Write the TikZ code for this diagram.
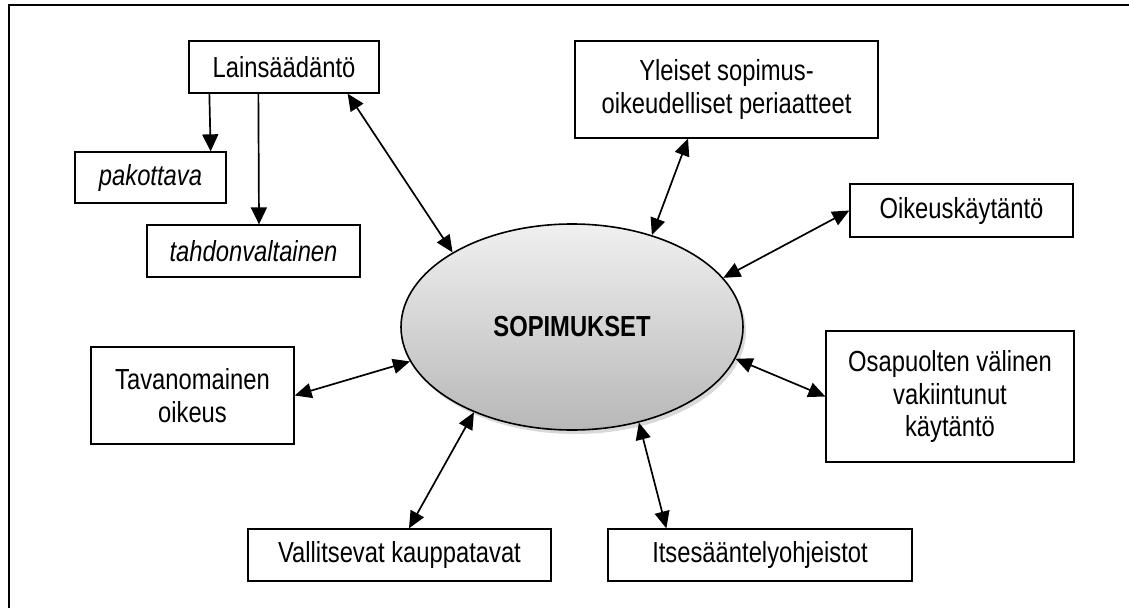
\documentclass[tikz,border=0pt]{standalone}
\usepackage{fontspec}
\setmainfont[FakeStretch=0.82]{Liberation Sans}
\usetikzlibrary{arrows.meta,shapes.geometric,shadows}
\begin{document}
\begin{tikzpicture}[x=1pt,y=-1pt,
  box/.style={draw, line width=1.3pt, inner sep=0pt, align=center,
    font=\fontsize{29}{32.5}\selectfont},
  itbox/.style={box, font=\fontsize{29}{32.5}\selectfont\itshape},
  conn/.style={line width=1.7pt,
    {Triangle[length=17pt,width=15pt]}-{Triangle[length=17pt,width=15pt]}},
  downarrow/.style={line width=1.7pt, -{Triangle[length=17pt,width=16pt]}},
  centre/.style={ellipse, draw, line width=1.6pt, inner sep=0pt,
    minimum width=342pt, minimum height=206pt,
    top color=black!6, bottom color=black!28,
    drop shadow={opacity=0.3, shadow xshift=3pt, shadow yshift=-4pt},
    font=\fontsize{29}{32}\selectfont\bfseries}]
\useasboundingbox (0,0) rectangle (1129,608);
\draw[line width=2pt] (9,608) -- (9,5) -- (1129,5);

\node[box, minimum width=190pt, minimum height=52pt] (lain) at (284,67) {Lainsäädäntö};
\node[itbox, minimum width=151pt, minimum height=51pt] (pak) at (150.5,177.5) {pakottava};
\node[itbox, minimum width=213pt, minimum height=52pt] (tahd) at (253.5,251) {tahdonvaltainen};
\node[box, minimum width=303pt, minimum height=97pt] (yl) at (726.5,89.5) {Yleiset sopimus-\\oikeudelliset periaatteet};
\node[box, minimum width=223pt, minimum height=53pt] (oik) at (961.5,210.5) {Oikeuskäytäntö};
\node[box, minimum width=248pt, minimum height=131pt] (osap) at (950,396.5) {Osapuolten välinen\\vakiintunut\\käytäntö};
\node[box, minimum width=203pt, minimum height=97pt] (tav) at (192.5,395.5) {Tavanomainen\\oikeus};
\node[box, minimum width=303pt, minimum height=52pt] (vall) at (399.5,555) {Vallitsevat kauppatavat};
\node[box, minimum width=304pt, minimum height=52pt] (itse) at (760,555) {Itsesääntelyohjeistot};
\node[centre] (ell) at (572,327) {SOPIMUKSET};

\draw[downarrow] ([xshift=21pt]lain.south west) -- ([xshift=-16pt]pak.north east);
\draw[downarrow] ([xshift=70pt]lain.south west) -- ([xshift=5.5pt]tahd.north);

\draw[conn] ([xshift=-32pt]lain.south east) -- (ell.148.8);
\draw[conn] ([xshift=-38.5pt]yl.south) -- (ell.49.7);
\draw[conn] (oik.west) -- (ell.18.1);
\draw[conn] (osap.west) -- (ell.-11.4);
\draw[conn] ([xshift=59pt]itse.north west) -- (ell.-55.5);
\draw[conn] ([xshift=9.5pt]vall.north) -- (ell.221.3);
\draw[conn] (tav.east) -- (ell.192);
\end{tikzpicture}
\end{document}
